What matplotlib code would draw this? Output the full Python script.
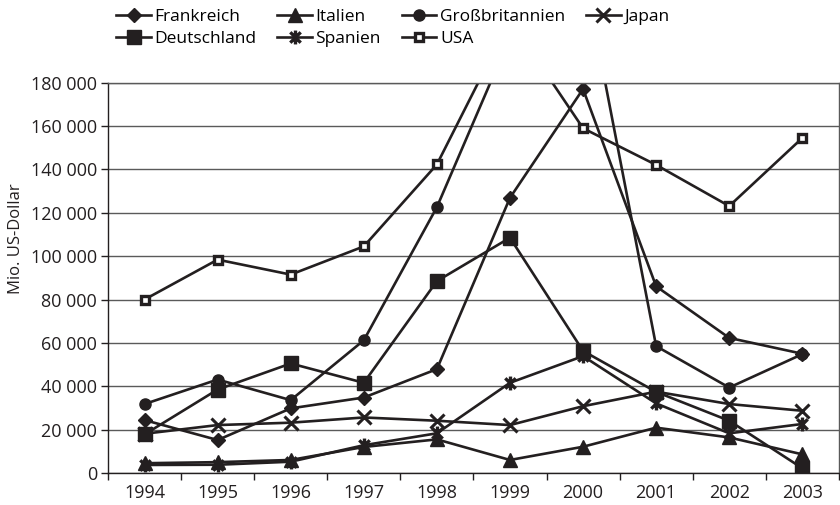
import numpy as np
import matplotlib
matplotlib.use('Agg')
import matplotlib.pyplot as plt
from matplotlib.path import Path
from matplotlib.ticker import FixedLocator, FuncFormatter, NullFormatter

plt.rcParams['font.family'] = ['Open Sans', 'DejaVu Sans']

years = ['1994', '1995', '1996', '1997', '1998',
         '1999', '2000', '2001', '2002', '2003']

# Mio. US-Dollar
frankreich = [24400, 15200, 29800, 34800, 47900,
              126900, 177100, 86100, 62300, 55000]
deutschland = [17800, 38500, 50500, 41600, 88500,
               108500, 56300, 37400, 24100, 2200]
italien = [4500, 5000, 6000, 12000, 15500,
           6000, 12100, 20900, 16400, 8600]
spanien = [3700, 3800, 5200, 12800, 18300,
           41600, 53900, 32100, 18300, 22600]
grossbritannien = [31800, 43100, 33600, 61200, 122600,
                   201000, 233000, 58500, 39400, 54800]
usa = [80000, 98400, 91500, 104500, 142300,
       209000, 159000, 142100, 123100, 154500]
japan = [18100, 22100, 23200, 25600, 24100,
         22100, 30800, 37500, 31800, 28700]

INK = '#231f20'
GRID = '#5a5a5a'

# asterisk: x plus a vertical bar
ast = Path([(0, -1), (0, 1), (-0.75, -0.75), (0.75, 0.75), (-0.75, 0.75), (0.75, -0.75)],
           [Path.MOVETO, Path.LINETO] * 3)

series = [
    ('Frankreich', frankreich, dict(marker='D', ms=7.5, mfc=INK, mec=INK)),
    ('Deutschland', deutschland, dict(marker='s', ms=9.5, mfc=INK, mec=INK)),
    ('Italien', italien, dict(marker='^', ms=10, mfc=INK, mec=INK)),
    ('Spanien', spanien, dict(marker=ast, ms=10, mfc='none', mec=INK, mew=2.4)),
    ('Großbritannien', grossbritannien, dict(marker='o', ms=8, mfc=INK, mec=INK)),
    ('USA', usa, dict(marker='s', ms=6, mfc='white', mec=INK, mew=2.4)),
    ('Japan', japan, dict(marker='x', ms=10, mfc='none', mec=INK, mew=2.2)),
]

fig = plt.figure(figsize=(8.4, 5.05), dpi=100)
ax = fig.add_axes([0.1286, 0.0634, 0.870, 0.7728])

x = np.arange(len(years))
handles = []
for name, vals, style in series:
    h, = ax.plot(x, vals, color=INK, lw=1.9, label=name, **style)
    handles.append(h)

ax.set_xlim(-0.5, len(years) - 0.5)
ax.set_ylim(0, 180000)
ax.yaxis.set_major_locator(FixedLocator(np.arange(0, 180001, 20000)))
ax.yaxis.set_major_formatter(FuncFormatter(lambda v, p: f'{int(v):,}'.replace(',', ' ')))
ax.grid(axis='y', color=GRID, lw=1.0)
ax.set_axisbelow(True)

ax.xaxis.set_major_locator(FixedLocator(x))
ax.set_xticklabels(years)
ax.xaxis.set_minor_locator(FixedLocator(np.arange(-0.5, len(years), 1.0)))
ax.xaxis.set_minor_formatter(NullFormatter())
ax.tick_params(axis='x', which='major', length=0, pad=8, labelsize=13, colors=INK)
ax.tick_params(axis='x', which='minor', length=5, width=1.0, color=INK)
ax.tick_params(axis='y', length=5, width=1.0, color=INK, labelsize=13, labelcolor=INK, pad=3)

for side in ('left', 'bottom'):
    ax.spines[side].set_color(INK)
    ax.spines[side].set_linewidth(1.0)
for side in ('top', 'right'):
    ax.spines[side].set_color(GRID)
    ax.spines[side].set_linewidth(1.0)

ax.set_ylabel('Mio. US-Dollar', fontsize=12, color=INK)
ax.yaxis.set_label_coords(-0.115, 0.6)

fig.legend(handles=handles, loc='upper left', bbox_to_anchor=(0.128, 1.0),
           ncol=4, frameon=False, fontsize=12.5, handlelength=2.0,
           handletextpad=0.2, columnspacing=1.2, labelspacing=0.36,
           borderaxespad=0.1)

fig.savefig('out.png', dpi=100)
